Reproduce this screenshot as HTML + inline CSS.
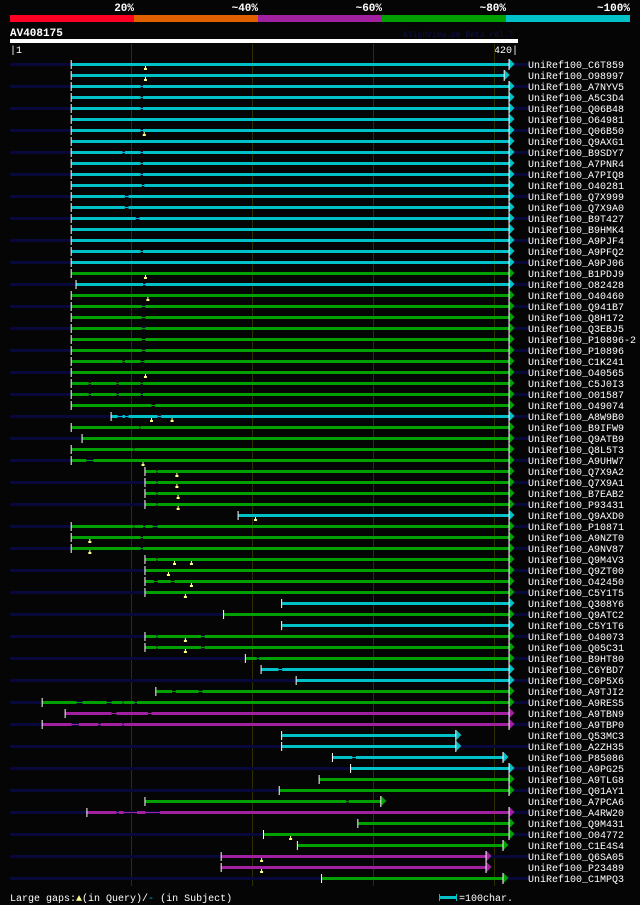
<!DOCTYPE html>
<html><head><meta charset="utf-8">
<style>
html,body{margin:0;padding:0;background:#050505;}
svg{display:block;font-family:"Liberation Mono","DejaVu Sans Mono",monospace;}
</style></head>
<body>
<svg id="chart" width="640" height="905" viewBox="0 0 640 905" xmlns="http://www.w3.org/2000/svg">
<rect x="0" y="0" width="640" height="905" fill="#050505"/>
<g>
<rect x="10" y="15" width="124" height="7" fill="#ff0022"/>
<rect x="134" y="15" width="124" height="7" fill="#e06000"/>
<rect x="258" y="15" width="124" height="7" fill="#a020a0"/>
<rect x="382" y="15" width="124" height="7" fill="#00a000"/>
<rect x="506" y="15" width="124" height="7" fill="#00c0c8"/>
<g fill="#fff" font-size="11" font-weight="bold" text-anchor="end">
<text x="134" y="11">20%</text>
<text x="258" y="11">~40%</text>
<text x="382" y="11">~60%</text>
<text x="506" y="11">~80%</text>
<text x="630" y="11">~100%</text>
</g></g>
<text x="10" y="36" fill="#fff" font-size="11" font-weight="bold">AV408175</text>
<text x="403" y="37" fill="#10104a" font-size="8">AlignView.pm Beta rel.7</text>
<rect x="10" y="39" width="508" height="4" fill="#fff"/>
<text x="10" y="53" fill="#fff" font-size="10">|1</text>
<text x="518" y="53" fill="#fff" font-size="10" text-anchor="end">420|</text>
<g id="grid"></g>
<g id="rows"></g>
<g>
<text x="10" y="901" fill="#fff" font-size="10">Large gaps:<tspan fill="#ffff88">▲</tspan>(in Query)/<tspan fill="#00c0c8">-</tspan> (in Subject)</text>
<rect x="439" y="896" width="18" height="3" fill="#00c0c8"/>
<rect x="439" y="894" width="1" height="7" fill="#00c0c8"/>
<rect x="456" y="894" width="1" height="7" fill="#00c0c8"/>
<text x="459" y="901" fill="#fff" font-size="10">=100char.</text>
</g>
</svg>
<script>
const names=["C6T859","O98997","A7NYV5","A5C3D4","Q06B48","O64981","Q06B50","Q9AXG1","B9SDY7","A7PNR4","A7PIQ8","O40281","Q7X999","Q7X9A0","B9T427","B9HMK4","A9PJF4","A9PFQ2","A9PJ06","B1PDJ9","O82428","O40460","Q941B7","Q8H172","Q3EBJ5","P10896-2","P10896","C1K241","O40565","C5J0I3","O01587","O49074","A8W9B0","B9IFW9","Q9ATB9","Q8L5T3","A9UHW7","Q7X9A2","Q7X9A1","B7EAB2","P93431","Q9AXD0","P10871","A9NZT0","A9NV87","Q9M4V3","Q9ZT00","O42450","C5Y1T5","Q308Y6","Q9ATC2","C5Y1T6","O40073","Q05C31","B9HT80","C6YBD7","C0P5X6","A9TJI2","A9RES5","A9TBN9","A9TBP0","Q53MC3","A2ZH35","P85086","A9PG25","A9TLG8","Q01AY1","A7PCA6","A4RW20","Q9M431","O04772","C1E4S4","Q6SA05","P23489","C1MPQ3"];
const starts=[51,51,51,51,51,51,51,51,51,51,51,51,51,51,51,51,51,51,51,51,55,51,51,51,51,51,51,51,51,51,51,51,84,51,60,51,51,112,112,112,112,189,51,51,51,112,112,112,112,225,177,225,112,112,195,208,237,121,27,46,27,225,225,267,282,256,223,112,64,288,210,238,175,175,258];
const ends=[413,409,413,413,413,413,413,413,413,413,413,413,413,413,413,413,413,413,413,413,413,413,413,413,413,413,413,413,413,413,413,413,413,413,413,413,413,413,413,413,413,413,413,413,413,413,413,413,413,413,413,413,413,413,413,413,413,413,413,413,413,369,369,408,413,413,413,307,413,413,413,408,394,394,408];
const identity="ccccccccccccccccccgcgggggggggggcggggggggcgggggggcgcgggccggpppcccccgggpggggpppg".split("");
const identityFixed="cccccccccccccccccccgcgggggggggggcgggggggggcgggggggcgcgggccggpppppcccccgggpggggppg";
// explicit per-row identity (c=~100%, g=~80%, p=~60%)
const rowIdentity=["c","c","c","c","c","c","c","c","c","c","c","c","c","c","c","c","c","c","c","g","c","g","g","g","g","g","g","g","g","g","g","g","c","g","g","g","g","g","g","g","g","c","g","g","g","g","g","g","g","c","g","c","g","g","g","c","c","g","g","p","p","c","c","c","c","g","g","g","p","g","g","g","p","p","g"];
const subjectGaps=[[],[],[[108,110]],[[108,110]],[[108,110]],[],[[108,110]],[],[[93,95],[108,110]],[[108,110]],[[108,110]],[[109,111]],[[95,98]],[[95,98]],[[104,107]],[],[],[[108,110]],[],[],[[110,112]],[],[[109,112]],[[109,112]],[[109,112]],[[109,112]],[[109,112]],[[93,95],[108,111]],[],[[65,67],[88,90],[108,110]],[[65,67],[88,90],[108,110]],[[117,120]],[[89,93],[95,98],[122,125]],[[107,108]],[],[[102,103]],[[63,69]],[[121,122]],[[121,122]],[[121,122]],[[121,122]],[],[[102,103],[110,112],[118,122]],[[108,110]],[[108,110]],[[121,122]],[],[[119,122],[133,136]],[],[],[],[],[[121,122],[158,161]],[[121,122],[158,161]],[[204,206]],[[222,225]],[],[[134,137],[156,159]],[[55,60],[80,84],[93,94],[103,105]],[[84,88],[114,117]],[[51,57],[73,75],[93,94]],[],[],[[283,286]],[],[],[],[[278,280]],[[88,90],[94,105],[112,124]],[],[],[],[],[],[]];
const queryGaps=[[112],[112],[],[],[],[],[111],[],[],[],[],[],[],[],[],[],[],[],[],[112],[],[114],[],[],[],[],[],[],[112],[],[],[],[117,134],[],[],[],[110],[138],[138],[139],[139],[203],[],[66],[66],[136,150],[131],[150],[145],[],[],[],[145],[145],[],[],[],[],[],[],[],[],[],[],[],[],[],[],[],[],[232],[],[208],[208],[]];
const gridTicks=[100,200,300,400];

const NS="http://www.w3.org/2000/svg";
const X0=10,X1=518,QLEN=420;
function xs(r){return X0+(r/QLEN)*(X1-X0);}
function rowY(i){return 64+11*i;}
const colorMap={c:"#00c0c8",g:"#00a000",p:"#a020a0"};
function mk(tag,attrs,parent){const e=document.createElementNS(NS,tag);for(const k in attrs)e.setAttribute(k,attrs[k]);parent.appendChild(e);return e;}

const grid=document.getElementById("grid");
gridTicks.forEach(t=>{
  const l=mk("rect",{x:Math.round(xs(t)),y:44,width:1,height:842,fill:"#2e2e00"},grid);
  
  
});

const rowsG=document.getElementById("rows");
names.forEach((n,i)=>{
  const y=rowY(i);
  const g=mk("g",{},rowsG);
  
  
  if(i%2===0){
    const s=mk("rect",{x:10,y:y-1,width:520,height:3,fill:"#08083a"},g);
    
    
  }
  const col=colorMap[rowIdentity[i]];
  const sx=xs(starts[i]),ex=xs(ends[i]);
  // bar pieces, split by subject gaps
  let cur=starts[i];
  const gaps=subjectGaps[i]||[];
  const pieces=[];
  gaps.forEach(gp=>{pieces.push([cur,gp[0]]);cur=gp[1];});
  pieces.push([cur,ends[i]]);
  gaps.forEach(gp=>{
    const t=mk("rect",{x:xs(gp[0]),y:y,width:xs(gp[1])-xs(gp[0]),height:1,fill:col},g);
    
    
  });
  pieces.forEach(p=>{
    const b=mk("rect",{x:xs(p[0]),y:y-1,width:Math.max(0,xs(p[1])-xs(p[0])),height:3,fill:col},g);
    
    
  });
  const a=mk("polygon",{points:`${ex},${y-5} ${ex+5},${y} ${ex},${y+5}`,fill:col},g);
  
  
  const st=mk("rect",{x:sx-1,y:y-4,width:1,height:9,fill:"#fff"},g);
  
  
  const et=mk("rect",{x:ex-1,y:y-5,width:1,height:11,fill:"#fff"},g);
  
  
  (queryGaps[i]||[]).forEach(q=>{
    const qx=xs(q);
    const m=mk("rect",{x:qx-0.5,y:y+2,width:1,height:3,fill:"#ffff88"},g);
    
    
    const m2=mk("rect",{x:qx-1.5,y:y+4,width:3,height:2,fill:"#ffff88"},g);
    
    
  });
  const t=mk("text",{x:528,y:y+4,fill:"#fff","font-size":"10"},g);
  t.textContent="UniRef100_"+n;
  
  
});
</script>
</body></html>
